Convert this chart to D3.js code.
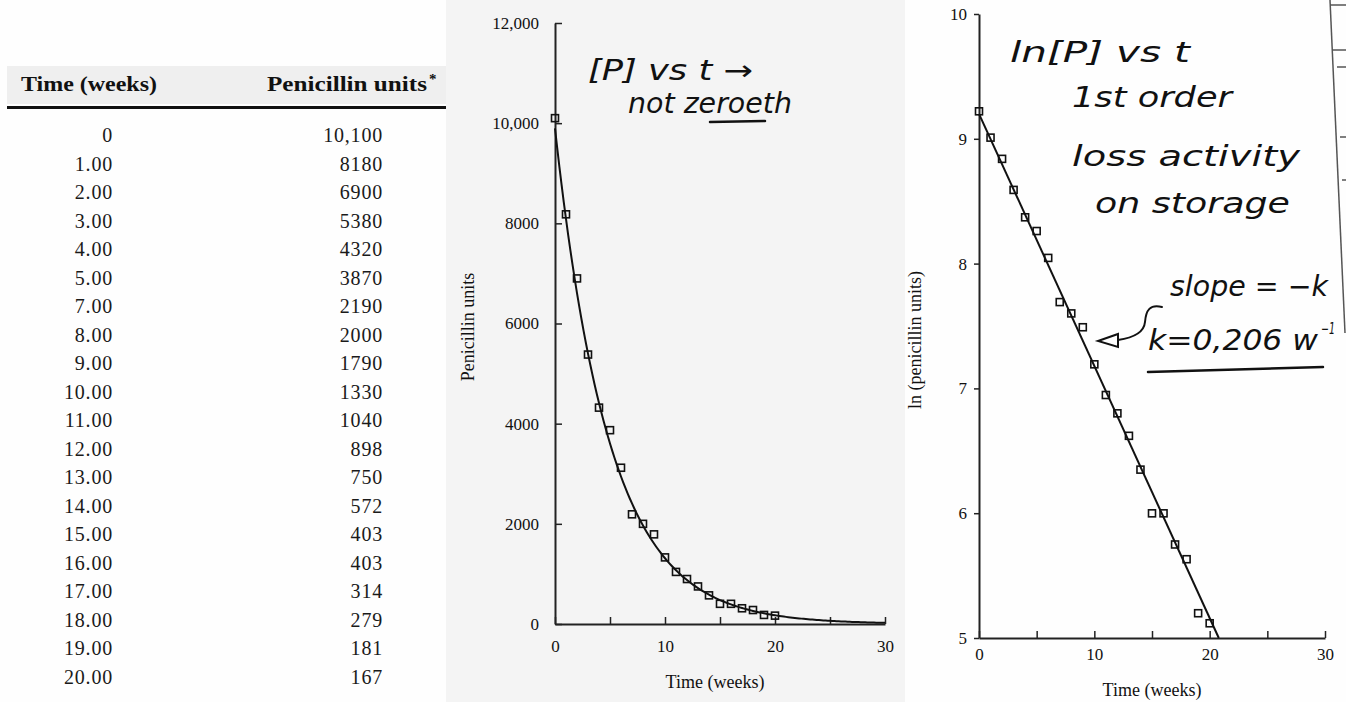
<!DOCTYPE html>
<html><head><meta charset="utf-8">
<script src="https://cdn.jsdelivr.net/npm/d3@7"></script>
<style>html,body{margin:0;padding:0;background:#fff;} svg{display:block}</style>
</head><body>
<svg id="c" width="1346" height="702"></svg>
<script>
// ---- data ----
const tableTimes = [0,1,2,3,4,5,7,8,9,10,11,12,13,14,15,16,17,18,19,20];
const tableUnits = [10100,8180,6900,5380,4320,3870,2190,2000,1790,1330,1040,898,750,572,403,403,314,279,181,167];
const plotTimes = [0,1,2,3,4,5,6,7,8,9,10,11,12,13,14,15,16,17,18,19,20];
const plotUnits = [10100,8180,6900,5380,4320,3870,3120,2190,2000,1790,1330,1040,898,750,572,403,403,314,279,181,167];
const fitLnIntercept = 9.2;
const fitK = 0.202;
const timeTicks = [0,5,10,15,20,25,30];
const timeLabels = [0,10,20,30];
const unitTicks = [0,2000,4000,6000,8000,10000,12000];
const lnTicks = [5,6,7,8,9,10];

const svg = d3.select("#c");
const serif = "'Liberation Serif','Times New Roman',serif";
const hand = "'DejaVu Sans',sans-serif";
const ink = "#111";

// backgrounds
svg.append("rect").attr("x",0).attr("y",0).attr("width",1346).attr("height",702).attr("fill","#fefefe");
svg.append("rect").attr("x",446).attr("y",0).attr("width",459).attr("height",702).attr("fill","#f4f4f4");

// ---- table ----
const tbl = svg.append("g");
tbl.append("rect").attr("x",7).attr("y",66).attr("width",439).attr("height",38).attr("fill","#efefef");
tbl.append("text").attr("x",21).attr("y",91).attr("font-family",serif).attr("font-weight","bold")
  .attr("font-size",22).attr("fill",ink).attr("textLength",136).attr("lengthAdjust","spacingAndGlyphs").text("Time (weeks)");
tbl.append("text").attr("x",267).attr("y",91).attr("font-family",serif).attr("font-weight","bold")
  .attr("font-size",22).attr("fill",ink).attr("textLength",160).attr("lengthAdjust","spacingAndGlyphs").text("Penicillin units");
tbl.append("text").attr("x",429).attr("y",84).attr("font-family",serif).attr("font-weight","bold")
  .attr("font-size",15).attr("fill",ink).text("*");
tbl.append("rect").attr("x",7).attr("y",106).attr("width",439).attr("height",3).attr("fill",ink);

const rowY = d3.scaleLinear().domain([0, tableTimes.length-1]).range([142, 683.5]);
const fmtTime = t => t === 0 ? "0" : d3.format(".2f")(t);
const fmtUnits = v => v >= 10000 ? d3.format(",")(v) : String(v);
tbl.selectAll("text.t").data(tableTimes).join("text").attr("class","t")
  .attr("x",113).attr("y",(d,i)=>rowY(i)).attr("text-anchor","end")
  .attr("font-family",serif).attr("font-size",20).attr("letter-spacing",0.8).attr("fill","#1a1a1a").text(fmtTime);
tbl.selectAll("text.u").data(tableUnits).join("text").attr("class","u")
  .attr("x",383).attr("y",(d,i)=>rowY(i)).attr("text-anchor","end")
  .attr("font-family",serif).attr("font-size",20).attr("letter-spacing",0.8).attr("fill","#1a1a1a").text(fmtUnits);

function styleAxis(g){
  g.select(".domain").attr("stroke","#222").attr("stroke-width",2);
  g.selectAll(".tick line").attr("stroke","#222").attr("stroke-width",1.5);
  g.selectAll(".tick text").attr("font-family",serif).attr("font-size",17).attr("fill",ink);
}

// ---- middle chart: units vs time ----
const xM = d3.scaleLinear().domain([0,30]).range([555,885]);
const yM = d3.scaleLinear().domain([0,12000]).range([624,23]);
const gM = svg.append("g");
gM.append("g").attr("transform","translate(0,624)")
  .call(d3.axisBottom(xM).tickValues(timeTicks).tickFormat(d=>timeLabels.includes(d)?d:"").tickSizeInner(-7).tickSizeOuter(0).tickPadding(16))
  .call(styleAxis);
gM.append("g").attr("transform","translate(555,0)")
  .call(d3.axisLeft(yM).tickValues(unitTicks).tickFormat(fmtUnits).tickSizeInner(-7).tickSizeOuter(0).tickPadding(16))
  .call(styleAxis);
const fitCurve = d3.range(0, 30.001, 0.2).map(t => [t, Math.exp(fitLnIntercept - fitK*t)]);
gM.append("path").datum(fitCurve).attr("fill","none").attr("stroke",ink).attr("stroke-width",2)
  .attr("d", d3.line().x(d=>xM(d[0])).y(d=>yM(d[1])));
gM.selectAll("rect.p").data(plotTimes.map((t,i)=>[t,plotUnits[i]])).join("rect").attr("class","p")
  .attr("x",d=>xM(d[0])-3.5).attr("y",d=>yM(d[1])-3.5).attr("width",7).attr("height",7)
  .attr("fill","none").attr("stroke",ink).attr("stroke-width",1.6);
gM.append("text").attr("x",715).attr("y",688).attr("text-anchor","middle").attr("font-family",serif)
  .attr("font-size",18).attr("fill",ink).text("Time (weeks)");
gM.append("text").attr("transform","translate(468,327) rotate(-90)").attr("dy","0.35em").attr("text-anchor","middle")
  .attr("font-family",serif).attr("font-size",18).attr("fill",ink).text("Penicillin units");

// ---- right chart: ln(units) vs time ----
const xR = d3.scaleLinear().domain([0,30]).range([979,1325]);
const yR = d3.scaleLinear().domain([5,10]).range([638,14]);
const gR = svg.append("g");
gR.append("g").attr("transform","translate(0,638)")
  .call(d3.axisBottom(xR).tickValues(timeTicks).tickFormat(d=>timeLabels.includes(d)?d:"").tickSizeInner(-7).tickSizeOuter(0).tickPadding(10))
  .call(styleAxis);
gR.append("g").attr("transform","translate(979,0)")
  .call(d3.axisLeft(yR).tickValues(lnTicks).tickFormat(d3.format("d")).tickSizeInner(5).tickSizeOuter(0).tickPadding(7))
  .call(styleAxis);
const tEnd = (fitLnIntercept - 5) / fitK;
gR.append("path").datum([[0,fitLnIntercept],[tEnd,5]]).attr("fill","none").attr("stroke",ink).attr("stroke-width",2)
  .attr("d", d3.line().x(d=>xR(d[0])).y(d=>yR(d[1])));
gR.selectAll("rect.p").data(plotTimes.map((t,i)=>[t,Math.log(plotUnits[i])])).join("rect").attr("class","p")
  .attr("x",d=>xR(d[0])-3.5).attr("y",d=>yR(d[1])-3.5).attr("width",7).attr("height",7)
  .attr("fill","none").attr("stroke",ink).attr("stroke-width",1.6);
gR.append("text").attr("x",1152).attr("y",696).attr("text-anchor","middle").attr("font-family",serif)
  .attr("font-size",18).attr("fill",ink).text("Time (weeks)");
gR.append("text").attr("transform","translate(915,340) rotate(-90)").attr("dy","0.35em").attr("text-anchor","middle")
  .attr("font-family",serif).attr("font-size",18).attr("fill",ink).text("ln (penicillin units)");

// ---- handwritten notes ----
const notes = svg.append("g").attr("font-family",hand).attr("font-style","italic").attr("fill",ink);
function note(txt, x, y, len, size){
  notes.append("text").attr("x",x).attr("y",y).attr("font-size",size||28)
    .attr("textLength",len).attr("lengthAdjust","spacingAndGlyphs").text(txt);
}
note("[P] vs t →", 588, 80, 165);
note("not zeroeth", 628, 113, 164);
note("ln[P] vs t", 1010, 62, 180);
note("1st order", 1072, 107, 160);
note("loss activity", 1072, 166, 228);
note("on storage", 1095, 213, 195);
note("slope = −k", 1170, 296, 158);
note("k=0,206 w", 1148, 350, 170);
note("−1", 1321, 334, 14, 15);
const strokes = svg.append("g").attr("fill","none").attr("stroke",ink).attr("stroke-linecap","round");
strokes.append("path").attr("d","M710,122 L765,121").attr("stroke-width",2.5);
strokes.append("path").attr("d","M1148,372 L1323,367").attr("stroke-width",2.5);
strokes.append("path").attr("d","M1162,307 C1150,304 1146,310 1145,322 C1144,333 1132,338 1118,340").attr("stroke-width",2);
strokes.append("path").attr("d","M1098,341 L1118,334 L1118,347 Z").attr("stroke-width",2);

// ---- edge of neighbouring page ----
const edge = svg.append("g").attr("stroke","#555").attr("stroke-width",1.5).attr("fill","none");
edge.append("path").attr("d","M1330,0 L1345,333");
[[5,1330],[50,1332],[67,1337],[137,1340],[180,1342]].forEach(([y,x])=>{
  edge.append("path").attr("d",`M${x},${y} L1346,${y}`);
});
</script>
</body></html>
